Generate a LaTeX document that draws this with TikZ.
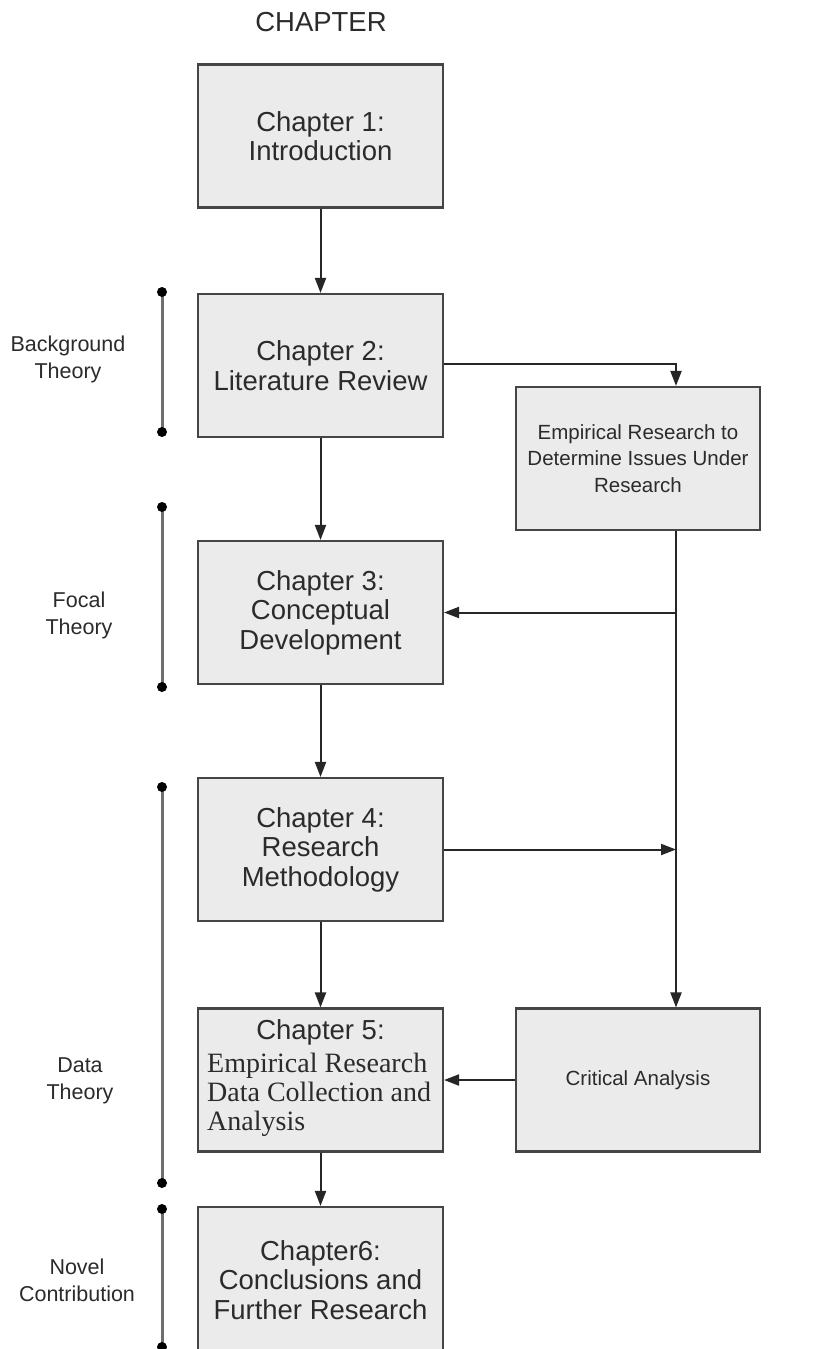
\documentclass[tikz,border=0pt]{standalone}
\usepackage{fontspec}
\setmainfont{Liberation Sans}
\newfontfamily\timesface{Liberation Serif}
\usetikzlibrary{arrows.meta,calc}
\definecolor{boxfill}{HTML}{EBEBEB}
\definecolor{boxline}{HTML}{454545}
\definecolor{ink}{HTML}{2B2B2B}
\definecolor{wire}{HTML}{262626}
\definecolor{barline}{HTML}{6E6E6E}
\begin{document}
\begin{tikzpicture}[x=1pt,y=-1pt,
  chapbox/.style={draw=boxline,line width=2.1pt,fill=boxfill,
    minimum width=245pt,minimum height=143pt,inner sep=0pt,
    text=ink,align=center,font=\fontsize{27.5}{29.5}\selectfont},
  sidebox/.style={chapbox,font=\fontsize{20.5}{26.5}\selectfont},
  sidelabel/.style={text=ink,align=center,inner sep=0pt,
    font=\fontsize{21.5}{27}\selectfont},
  flow/.style={draw=wire,line width=2pt,
    -{Triangle[length=15pt,width=11pt]}},
  bar/.style={draw=barline,line width=3pt},
  barend/.style={fill=black,draw=none,circle,minimum size=10pt,inner sep=0pt}
]
\clip (0,0) rectangle (827,1349);
\fill[white] (0,0) rectangle (827,1349);

% heading
\node[text=ink,font=\fontsize{27.5}{30}\selectfont] (head) at (321,22) {CHAPTER};

% chapter column
\node[chapbox] (ch1) at (320.5,136) {Chapter 1:\\Introduction};
\node[chapbox] (ch2) at (320.5,365.5) {Chapter 2:\\Literature Review};
\node[chapbox] (ch3) at (320.5,612.5) {Chapter 3:\\Conceptual\\Development};
\node[chapbox] (ch4) at (320.5,849.5) {Chapter 4:\\Research\\Methodology};
\node[chapbox] (ch5) at (320.5,1080) {};
\node[text=ink,font=\fontsize{27.5}{29.5}\selectfont,inner sep=0pt] (ch5t) at (320.5,1032) {Chapter 5:};
\node[text=ink,font=\timesface\fontsize{28}{29}\selectfont,align=left,anchor=north west,inner sep=0pt]
  (ch5b) at (207,1053) {Empirical Research\\Data Collection and\\Analysis};
\node[chapbox,minimum height=146pt] (ch6) at (320.5,1280) {Chapter6:\\Conclusions and\\Further Research};

% right column
\node[sidebox,minimum width=244pt] (emp) at (638,458.5) {Empirical Research to\\Determine Issues Under\\Research};
\node[sidebox,minimum width=244pt] (crit) at (638,1080) {Critical Analysis};

% trunk line on the right
\coordinate (vx) at (676,0);
\coordinate (topturn) at (emp.north -| vx);
\coordinate (trunktop) at (emp.south -| vx);
\coordinate (trunkbot) at (crit.north -| vx);
\coordinate (tap3) at (ch3.east -| vx);
\coordinate (tap4) at (ch4.east -| vx);

% connectors
\draw[flow] (ch1.south) -- (ch2.north);
\draw[flow] (ch2.south) -- (ch3.north);
\draw[flow] (ch3.south) -- (ch4.north);
\draw[flow] (ch4.south) -- (ch5.north);
\draw[flow] (ch5.south) -- (ch6.north);
\draw[flow] ([yshift=2pt]ch2.east) -| (topturn);
\draw[flow] (trunktop) -- (trunkbot);
\draw[flow] (tap3) -- (ch3.east);
\draw[flow] (ch4.east) -- (tap4);
\draw[flow] (crit.west) -- (ch5.east);

% phase brackets
\coordinate (b1t) at (162,292);  \coordinate (b1b) at (162,432);
\coordinate (b2t) at (162,507);  \coordinate (b2b) at (162,687);
\coordinate (b3t) at (162,787);  \coordinate (b3b) at (162,1183);
\coordinate (b4t) at (162,1209); \coordinate (b4b) at (162,1347);
\foreach \t/\b in {b1t/b1b,b2t/b2b,b3t/b3b,b4t/b4b}{
  \draw[bar] (\t) -- (\b);
  \node[barend] at (\t) {};
  \node[barend] at (\b) {};
}

% phase labels
\node[sidelabel] (lab1) at (68,359) {Background\\Theory};
\node[sidelabel] (lab2) at (79,615) {Focal\\Theory};
\node[sidelabel] (lab3) at (80,1081) {Data\\Theory};
\node[sidelabel] (lab4) at (77,1280) {Novel\\Contribution};
\end{tikzpicture}
\end{document}
